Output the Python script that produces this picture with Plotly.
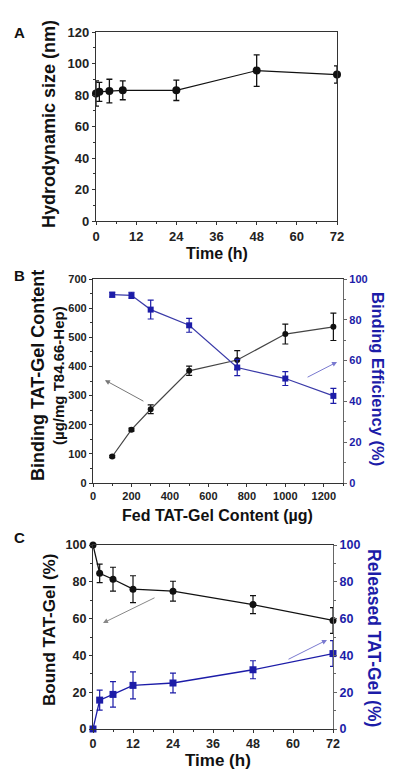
import plotly.graph_objects as go

# ---------------- data ----------------
# Panel A
a_time = [0, 1, 4, 8, 24, 48, 72]
a_size = [81, 82, 82.5, 83, 83, 95.5, 93]
a_err = [8, 6, 7.5, 6, 6.5, 10, 5.5]

# Panel B
b_fed = [100, 200, 300, 500, 750, 1000, 1250]
b_bind = [91, 183, 253, 385, 422, 511, 536]
b_bind_err = [4, 5, 15, 16, 32, 34, 47]
b_eff = [92.3, 92, 85, 77.3, 56.6, 51.2, 42.7]
b_eff_err = [1.2, 1.5, 4.6, 3.4, 4, 3.4, 3.7]

# Panel C
c_time = [0, 2, 6, 12, 24, 48, 72]
c_bound = [100, 84.6, 81.4, 76, 74.9, 67.6, 59]
c_bound_err = [0, 5, 6.5, 7.3, 5.4, 4.9, 7]
c_rel = [0, 15.7, 18.8, 23.7, 25, 32.2, 41]
c_rel_err = [0, 5.4, 6.9, 7.3, 5.4, 4.9, 7]

BLACK = "#111111"
BLUE = "#1c1ca8"
FONT = "Liberation Sans"
OFF = 8  # default page body margin
W, H = 400 - OFF, 783 - OFF

def py(p):  # page pixel y -> paper
    return 1 - (p - OFF) / H

def px(p):
    return (p - OFF) / W

fig = go.Figure()

fig.add_trace(go.Scatter(x=a_time, y=a_size, mode="lines+markers",
                         line=dict(color=BLACK, width=1.2),
                         marker=dict(symbol="circle", size=8, color=BLACK),
                         error_y=dict(type="data", array=a_err, color=BLACK, thickness=1.3, width=3),
                         xaxis="x", yaxis="y", cliponaxis=False, showlegend=False))

fig.add_trace(go.Scatter(x=b_fed, y=b_bind, mode="lines+markers",
                         line=dict(color="#444444", width=1.2),
                         marker=dict(symbol="circle", size=6, color=BLACK),
                         error_y=dict(type="data", array=b_bind_err, color=BLACK, thickness=1.2, width=3),
                         xaxis="x2", yaxis="y2", cliponaxis=False, showlegend=False))
fig.add_trace(go.Scatter(x=b_fed, y=b_eff, mode="lines+markers",
                         line=dict(color="#3a3aa8", width=1.2),
                         marker=dict(symbol="square", size=6, color=BLUE),
                         error_y=dict(type="data", array=b_eff_err, color=BLUE, thickness=1.2, width=3),
                         xaxis="x2", yaxis="y3", cliponaxis=False, showlegend=False))

fig.add_trace(go.Scatter(x=c_time, y=c_bound, mode="lines+markers",
                         line=dict(color=BLACK, width=1.3),
                         marker=dict(symbol="circle", size=7, color=BLACK),
                         error_y=dict(type="data", array=c_bound_err, color=BLACK, thickness=1.2, width=3),
                         xaxis="x3", yaxis="y4", cliponaxis=False, showlegend=False))
fig.add_trace(go.Scatter(x=c_time, y=c_rel, mode="lines+markers",
                         line=dict(color=BLUE, width=1.3),
                         marker=dict(symbol="square", size=7, color=BLUE),
                         error_y=dict(type="data", array=c_rel_err, color=BLUE, thickness=1.2, width=3),
                         xaxis="x3", yaxis="y5", cliponaxis=False, showlegend=False))

def tf_(size, color="#222222"):
    return dict(family=FONT, size=size, color=color, weight="bold")

def xax(dom, anchor, rng, dtick, minor, fs):
    return dict(domain=dom, anchor=anchor, range=rng, dtick=dtick, tick0=0, automargin=False,
                showline=True, linecolor="#333333", linewidth=1.2, mirror=True,
                ticks="outside", ticklen=3, tickcolor="#333333", tickwidth=1,
                minor=dict(ticks="outside", ticklen=2, dtick=minor, tickcolor="#333333"),
                showgrid=False, zeroline=False, tickfont=tf_(fs), fixedrange=True)

def yax(dom, anchor, rng, dtick, minor, fs, mirror=True, side="left", color="#222222", overlay=None, lc="#333333"):
    d = dict(domain=dom, anchor=anchor, range=rng, dtick=dtick, tick0=0, side=side, automargin=False,
             showline=True, linecolor=lc, linewidth=1.2, mirror=mirror,
             ticks="outside", ticklen=3, tickcolor=lc, tickwidth=1,
             minor=dict(ticks="outside", ticklen=2, dtick=minor, tickcolor=lc),
             showgrid=False, zeroline=False, tickfont=tf_(fs, color), fixedrange=True)
    if overlay:
        d["overlaying"] = overlay
        d.pop("domain")
    return d

fig.update_layout(
    template="none",
    width=W, height=H, margin=dict(l=0, r=0, t=0, b=0, pad=0),
    paper_bgcolor="white", plot_bgcolor="white",
    xaxis=xax([px(96), px(337)], "y", [0, 72], 12, 6, 13),
    yaxis=yax([py(221), py(32)], "x", [0, 120], 20, 10, 13),
    xaxis2=xax([px(93), px(343)], "y2", [0, 1300], 200, 100, 11),
    yaxis2=yax([py(483), py(279)], "x2", [0, 700], 100, 50, 11, mirror=False),
    yaxis3=yax(None, "x2", [0, 100], 20, 10, 11, mirror=False, side="right", color=BLUE, overlay="y2", lc="#666666"),
    xaxis3=xax([px(93), px(333)], "y4", [0, 72], 12, 6, 12.5),
    yaxis4=yax([py(729), py(545)], "x3", [0, 100], 20, 10, 12.5, mirror=False),
    yaxis5=yax(None, "x3", [0, 100], 20, 10, 12.5, mirror=False, side="right", color=BLUE, overlay="y4", lc="#666666"),
)

ann = []

def text(x, y, t, font, angle=0):
    ann.append(dict(x=px(x), y=py(y), xref="paper", yref="paper", text=t, showarrow=False,
                    font=font, textangle=angle, xanchor="center", yanchor="middle"))

# panel letters
text(19, 33, "A", tf_(15, "#111111"))
text(19, 275, "B", tf_(15, "#111111"))
text(19, 537, "C", tf_(15, "#111111"))

# axis titles
text(49, 124, "Hydrodynamic size (nm)", tf_(18, "#111111"), -90)
text(217, 253, "Time (h)", tf_(16, "#111111"))
text(38, 376, "Binding TAT-Gel Content", tf_(18, "#111111"), -90)
text(58, 376, "(µg/mg T84.66-Hep)", tf_(15, "#111111"), -90)
text(378, 379, "Binding Efficiency (%)", tf_(16.5, BLUE), 90)
text(217, 515, "Fed TAT-Gel Content (µg)", tf_(16, "#111111"))
text(49, 630, "Bound TAT-Gel (%)", tf_(17, "#111111"), -90)
text(374, 638, "Released TAT-Gel (%)", tf_(17.5, BLUE), 90)
text(218, 760, "Time (h)", tf_(17, "#111111"))

# arrows
def arrow(x, y, axx, ayy, xr, yr, color):
    ann.append(dict(x=x, y=y, ax=axx, ay=ayy, xref=xr, yref=yr, axref=xr, ayref=yr,
                    showarrow=True, arrowhead=2, arrowsize=1, arrowwidth=1, arrowcolor=color, text=""))

arrow(62, 353, 270, 278, "x2", "y2", "#777777")
arrow(1269, 59.3, 1108, 51.5, "x2", "y3", "#7a7ad0")
arrow(3, 57.6, 18.9, 71.7, "x3", "y4", "#888888")
arrow(70.2, 48.4, 58.2, 37.5, "x3", "y5", "#7a7ad0")

fig.update_layout(annotations=ann)
fig.write_html("out.html")
